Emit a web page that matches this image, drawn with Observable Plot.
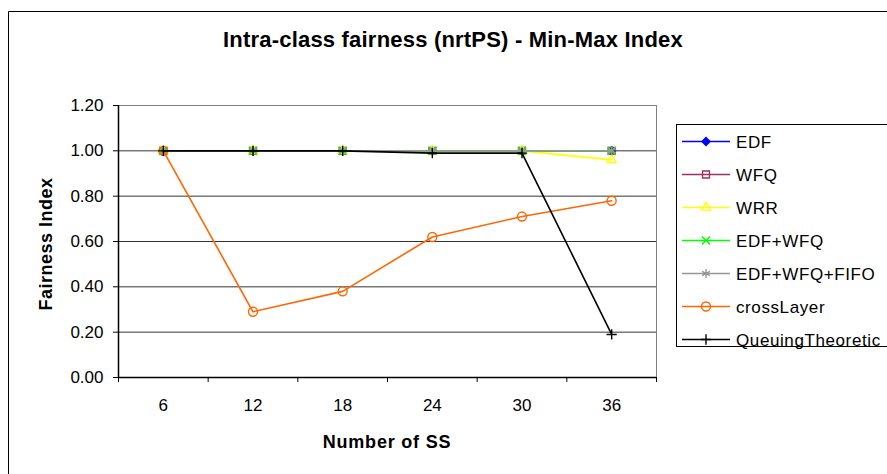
<!DOCTYPE html>
<html>
<head>
<meta charset="utf-8">
<script src="https://cdn.jsdelivr.net/npm/d3@7"></script>
<script src="https://cdn.jsdelivr.net/npm/@observablehq/plot@0.6"></script>
<style>
  html, body { margin: 0; padding: 0; background: white; }
  svg { display: block; }
</style>
</head>
<body>
<div id="chart"></div>
<script>
// ---- data ----
const ss = [6, 12, 18, 24, 30, 36];
const xBounds = [3, 9, 15, 21, 27, 33, 39];
const yTicks = [0, 0.2, 0.4, 0.6, 0.8, 1.0, 1.2];
const seriesNames = ["EDF", "WFQ", "WRR", "EDF+WFQ", "EDF+WFQ+FIFO", "crossLayer", "QueuingTheoretic"];
const edf = [1.00, 1.00, 1.00, 1.00, 1.00, 1.00];
const wfq = [1.00, 1.00, 1.00, 1.00, 1.00, 1.00];
const wrr = [1.00, 1.00, 1.00, 1.00, 1.00, 0.96];
const edfWfq = [1.00, 1.00, 1.00, 1.00, 1.00, 1.00];
const edfWfqFifo = [1.00, 1.00, 1.00, 1.00, 1.00, 1.00];
const crossLayer = [1.00, 0.29, 0.38, 0.62, 0.71, 0.78];
const queuing = [1.00, 1.00, 1.00, 0.99, 0.99, 0.19];
const chartTitle = "Intra-class fairness (nrtPS) - Min-Max Index";
const xTitle = "Number of SS";
const yTitle = "Fairness Index";

// ---- styles ----
const seriesValues = [edf, wfq, wrr, edfWfq, edfWfqFifo, crossLayer, queuing];
const styles = [
  {color: "#0000FF", symbol: "diamond2", r: 3.6, filled: true},
  {color: "#993366", symbol: "square2", r: 4.4, filled: false},
  {color: "#FFFF00", symbol: "triangle2", r: 4.3, filled: false},
  {color: "#00FF00", symbol: "times", r: 3.8, filled: false},
  {color: "#969696", symbol: "asterisk", r: 4.2, filled: false},
  {color: "#FF6600", symbol: "circle", r: 4.5, filled: false},
  {color: "#000000", symbol: "plus", r: 3.4, filled: false}
];
const font = "'Liberation Sans', Arial, sans-serif";

const seriesMarks = [];
seriesNames.forEach((name, i) => {
  const rows = ss.map((x, j) => ({x, y: seriesValues[i][j], name}));
  const s = styles[i];
  seriesMarks.push(Plot.line(rows, {x: "x", y: "y", stroke: s.color, strokeWidth: 1.6}));
  seriesMarks.push(Plot.dot(rows, {
    x: "x", y: "y", symbol: () => s.symbol, r: s.r,
    stroke: s.color, strokeWidth: 1.4,
    fill: s.filled ? s.color : "none"
  }));
});

const chart = Plot.plot({
  width: 887,
  height: 474,
  marginLeft: 118,
  marginRight: 231,
  marginTop: 105,
  marginBottom: 97,
  style: {fontFamily: font, fontSize: "17px", background: "white", overflow: "visible"},
  x: {type: "linear", domain: [3, 39]},
  y: {domain: [0, 1.2]},
  symbol: {type: "identity"},
  marks: [
    Plot.gridY(yTicks.slice(1, 6), {stroke: "#000", strokeOpacity: 0.8, strokeWidth: 1}),
    Plot.ruleY([1.2], {stroke: "#808080", strokeWidth: 1}),
    Plot.ruleX([39], {stroke: "#808080", strokeWidth: 1}),
    Plot.axisY({ticks: yTicks, tickFormat: d => d.toFixed(2), tickSize: 5, tickPadding: 10, label: null, fontSize: 17, stroke: "#000"}),
    Plot.axisX({ticks: ss, tickSize: 0, tickPadding: 21, label: null, fontSize: 17, tickFormat: d => String(d)}),
    Plot.axisX({ticks: xBounds, tickSize: 5, tickFormat: () => "", label: null, stroke: "#000"}),
    Plot.ruleX([3], {stroke: "#000", strokeWidth: 1.5}),
    Plot.ruleY([0], {stroke: "#000", strokeWidth: 1.5}),
    ...seriesMarks
  ]
});

document.getElementById("chart").appendChild(chart);

const svg = d3.select(chart.tagName.toLowerCase() === "svg" ? chart : chart.querySelector("svg"));

// outer chart-area frame
svg.append("path")
  .attr("d", "M8.5,474 V11.5 H887")
  .attr("fill", "none").attr("stroke", "#000").attr("stroke-width", 1);

// title
svg.append("text")
  .attr("x", 453).attr("y", 47)
  .attr("text-anchor", "middle")
  .attr("font-family", font).attr("font-weight", "bold").attr("font-size", 22)
  .attr("letter-spacing", 0.2)
  .attr("fill", "#000")
  .text(chartTitle);

// axis titles
svg.append("text")
  .attr("x", 387).attr("y", 448)
  .attr("text-anchor", "middle")
  .attr("font-family", font).attr("font-weight", "bold").attr("font-size", 18)
  .attr("letter-spacing", 0.8)
  .attr("fill", "#000")
  .text(xTitle);

svg.append("text")
  .attr("transform", "translate(52,244) rotate(-90)")
  .attr("text-anchor", "middle")
  .attr("font-family", font).attr("font-weight", "bold").attr("font-size", 18)
  .attr("letter-spacing", 0.5)
  .attr("fill", "#000")
  .text(yTitle);

// legend
const lg = svg.append("g").attr("text-anchor", "start");
lg.append("rect")
  .attr("x", 676.5).attr("y", 124.5).attr("width", 240).attr("height", 222)
  .attr("fill", "white").attr("stroke", "#000").attr("stroke-width", 1);
const symbolMap = {
  diamond2: d3.symbolDiamond2, square2: d3.symbolSquare2, triangle2: d3.symbolTriangle2,
  times: d3.symbolTimes, asterisk: d3.symbolAsterisk, circle: d3.symbolCircle, plus: d3.symbolPlus
};
seriesNames.forEach((name, i) => {
  const s = styles[i];
  const y = 141.5 + i * 33;
  lg.append("line")
    .attr("x1", 682).attr("x2", 730).attr("y1", y).attr("y2", y)
    .attr("stroke", s.color).attr("stroke-width", 1.6);
  lg.append("path")
    .attr("transform", `translate(706,${y})`)
    .attr("d", d3.symbol(symbolMap[s.symbol], Math.PI * s.r * s.r)())
    .attr("fill", s.filled ? s.color : "none")
    .attr("stroke", s.color).attr("stroke-width", 1.4);
  lg.append("text")
    .attr("x", 736).attr("y", y).attr("dy", "0.36em")
    .attr("text-anchor", "start")
    .attr("font-family", font).attr("font-size", 17)
    .attr("letter-spacing", 0.6)
    .attr("fill", "#000")
    .text(name);
});
</script>
</body>
</html>
